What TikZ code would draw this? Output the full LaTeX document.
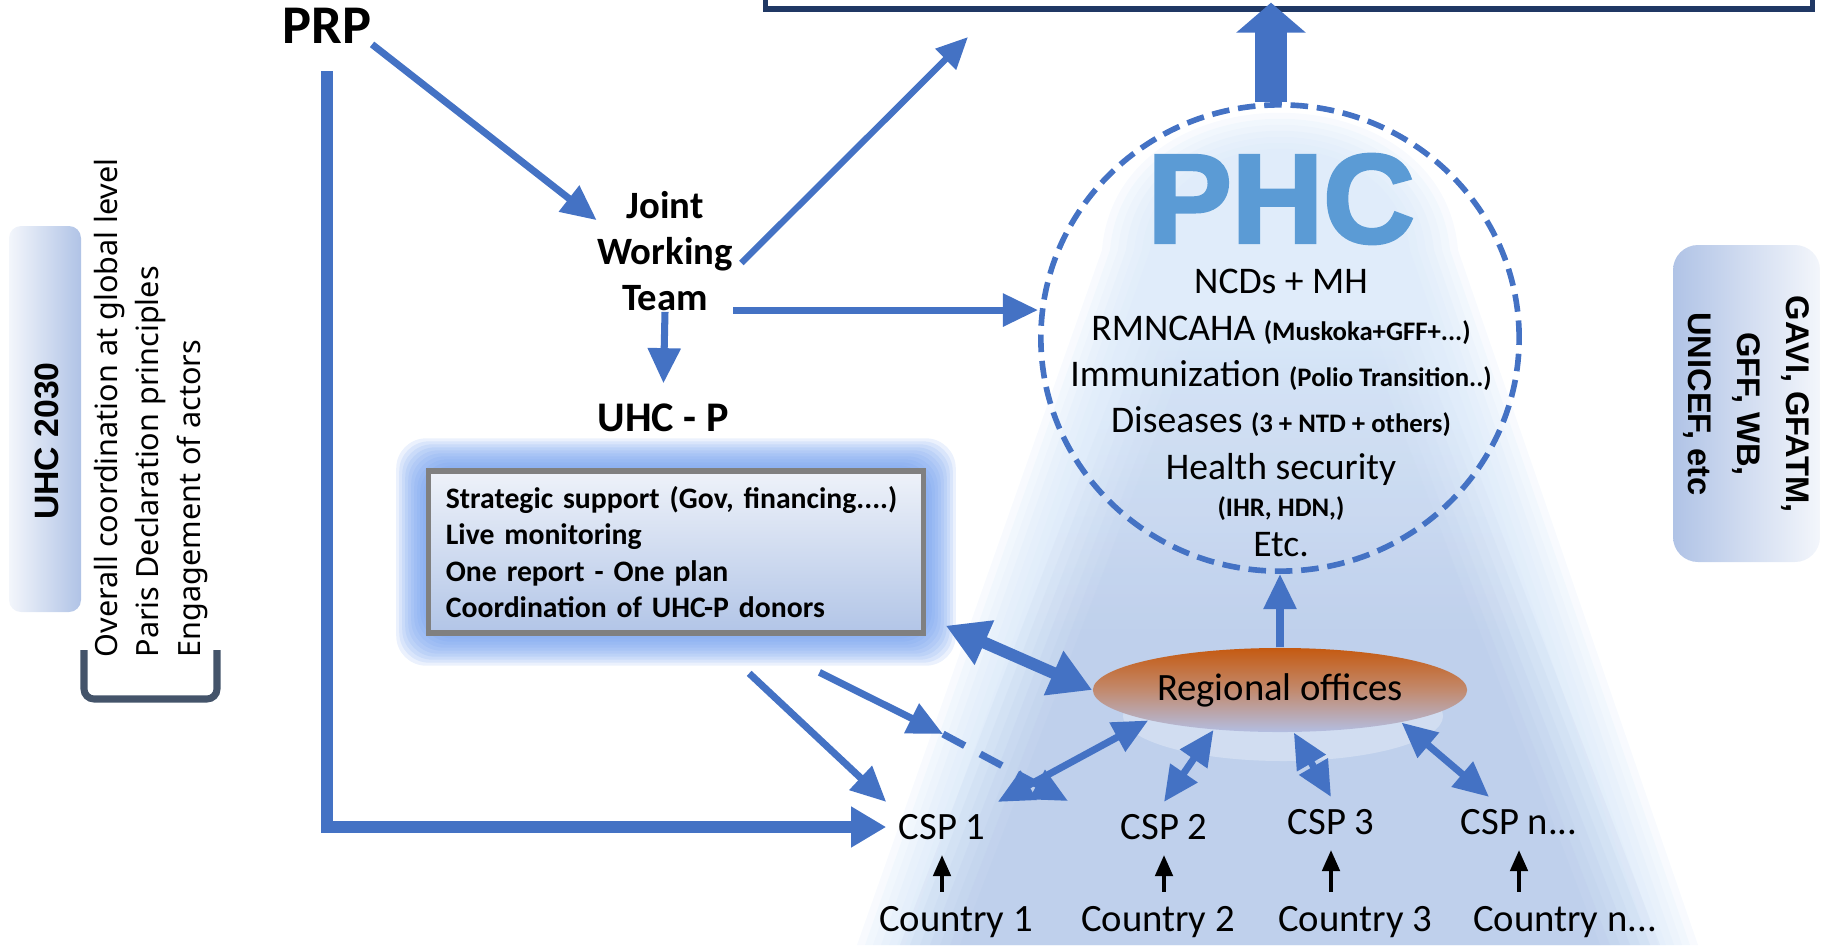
\documentclass[tikz,border=0pt]{standalone}
\usepackage{fontspec}
\setmainfont{Carlito}
\newfontfamily\sidefont{Noto Sans}
\newfontfamily\sideboldfont{Liberation Sans}
\newfontfamily\phcfont[BoldFeatures={RawFeature={embolden=2.5}}]{Liberation Sans}
\usetikzlibrary{arrows.meta,calc,shapes.geometric,backgrounds}

\definecolor{arrowblue}{HTML}{4472C4}
\definecolor{phcblue}{HTML}{5B9BD5}
\definecolor{glowblue}{HTML}{6E9CEE}
\definecolor{boxtop}{HTML}{EEF2F9}
\definecolor{boxbottom}{HTML}{B2C5E7}
\definecolor{conelight}{HTML}{D6E6F8}
\definecolor{conedark}{HTML}{AFC2E6}
\definecolor{rotop}{HTML}{C55A11}
\definecolor{romid}{HTML}{C28A6E}
\definecolor{robottom}{HTML}{B3BEE2}
\definecolor{navy}{HTML}{203864}
\definecolor{slate}{HTML}{44546A}
\definecolor{sideblue}{HTML}{B0C3E6}

\newcommand{\subnote}[1]{{\fontsize{7.6}{9}\selectfont\bfseries #1}}

\tikzset{
  arr/.style={arrowblue,line width=2pt,-{Triangle[width=9pt,length=10pt]}},
  dblarr/.style={arrowblue,line width=2pt,{Triangle[width=9pt,length=10pt]}-{Triangle[width=9pt,length=10pt]}},
  csptext/.style={font=\fontsize{11}{13}\selectfont},
  teamtext/.style={inner sep=0pt,align=center,font=\fontsize{11}{13.2}\selectfont\bfseries},
  sbox/.style={draw=gray,line width=1.5pt,top color=boxtop,bottom color=boxbottom,text width=4.6cm,
    inner xsep=0.17cm,minimum height=1.62cm,align=left,font=\fontsize{8.45}{10.3}\selectfont\bfseries},
}

\begin{document}
\begin{tikzpicture}[x=0.01cm,y=-0.01cm]
\useasboundingbox (0,0) rectangle (1821,945);

\node [draw=navy,line width=1.5pt,fill=white,minimum width=10.46cm,minimum height=1cm,inner sep=0pt] (top) at (1289,-41) {};

\node [teamtext,font=\fontsize{15.5}{18}\selectfont\bfseries] (prp) at (327,26) {PRP};
\node [teamtext] (jwt) at (665,251) {Joint\\Working\\Team};
\node [teamtext,font=\fontsize{12}{14}\selectfont\bfseries] (uhcp) at (663,418) {UHC - P};
\node [sbox] (box) at (676,552) {Strategic support (Gov, financing....)\\Live monitoring\\One report - One plan\\Coordination of UHC-P donors};

\node [ellipse,draw=arrowblue,dash pattern=on 5pt off 2.5pt,line width=1.6pt,minimum width=4.78cm,minimum height=4.66cm,inner sep=0pt] (phc) at (1280,338) {};
\node [inner sep=0pt,text=phcblue,font=\phcfont\bfseries\fontsize{36}{40}\selectfont] (phctitle) at (1281,199) {PHC};
\node [inner sep=0pt,align=center,font=\fontsize{10.7}{13.2}\selectfont] (items) at (1281,413) {NCDs + MH\\RMNCAHA \subnote{(Muskoka+GFF+...)}\\Immunization \subnote{(Polio Transition..)}\\Diseases \subnote{(3 + NTD + others)}\\Health security\\[-2.7pt]\subnote{(IHR, HDN,)}\\[-1.8pt]Etc.};

\node [ellipse,top color=rotop,bottom color=robottom,middle color=romid,minimum width=3.74cm,minimum height=0.84cm,inner sep=0pt,csptext] (ro) at (1280,690) {Regional offices};

\node [csptext] (csp1) at (942,827) {CSP 1};
\node [csptext] (csp2) at (1164,827) {CSP 2};
\node [csptext] (csp3) at (1331,822) {CSP 3};
\node [csptext] (cspn) at (1519,822) {CSP n...};
\node [csptext] (c1) at (956,922) {Country 1};
\node [csptext] (c2) at (1158,922) {Country 2};
\node [csptext] (c3) at (1355,922) {Country 3};
\node [csptext] (cn) at (1565,922) {Country n...};

\shade [left color=white!85!sideblue,right color=sideblue,rounded corners=0.12cm] (9,226) rectangle (81,612);
\node [rotate=90,inner sep=0pt,font=\sideboldfont\bfseries\fontsize{9.6}{12}\selectfont] (uhc) at (47,441) {UHC 2030};
\node [rotate=90,anchor=west,align=left,inner sep=0pt,font=\sidefont\fontsize{8.7}{11.7}\selectfont] (princ) at (151,658) {Overall coordination  at global level\\Paris Declaration principles\\Engagement of actors};
\draw [slate,line width=2pt,rounded corners=0.1cm] (84,650) -- (84,699) -- (217,699) -- (217,650);

\shade [left color=sideblue,right color=white!85!sideblue,rounded corners=0.25cm] (1673,245) rectangle (1820,562);
\node [rotate=-90,inner sep=0pt,align=center,font=\sideboldfont\bfseries\fontsize{9.3}{13.9}\selectfont] (donors) at (1746,404) {GAVI, GFATM,\\GFF, WB,\\UNICEF, etc};

\coordinate (jtop) at (968,37);
\coordinate (jwtout) at ([yshift=-0.59cm]jwt.east);
\coordinate (phctop) at ([xshift=-0.09cm]phc.north);
\coordinate (dmid) at (943,734);
\coordinate (dend) at (1068,801);

\draw [arrowblue,line width=3.3pt,-{Triangle[width=11pt,length=10pt]},shorten <=0.27cm] (prp.south)  --  (prp.south |- csp1.west)  --  (csp1.west);
\draw [arr] (prp.south east)  --  ([yshift=-0.3cm]jwt.north west);
\draw [arr,line width=1.8pt,-{Triangle[width=8pt,length=9pt]}] ([xshift=0.08cm,yshift=-0.12cm]jwt.east)  --  (jtop);
\draw [arr] (jwtout)  --  (jwtout -| phc.west);
\draw [arr,shorten >=0.2cm] (jwt.south)  --  (uhcp.north);
\draw [arrowblue,line width=0.32cm,-{Triangle[width=0.68cm,length=0.3cm]},shorten >=-0.09cm] (phctop)  --  (phctop |- top.south);
\draw [arr] (ro.north)  --  (phc.south);
\draw [arrowblue,line width=3.4pt,{Triangle[width=13pt,length=12pt]}-{Triangle[width=13pt,length=12pt]}] ([xshift=0.2cm,yshift=0.1cm]box.south east)  --  (ro.west);
\draw [arr,shorten <=0.55cm] ([xshift=0.33cm]box.south)  --  (csp1.north west);
\draw [arr,shorten <=0.82cm] ([xshift=0.7cm]box.south)  --  (dmid);
\draw [arr,dash pattern=on 7pt off 5pt] (dmid)  --  (dend);

\draw [dblarr] (csp1.north east)  --  (ro.-167);
\draw [dblarr] (csp2.north)  --  (ro.-149);
\draw [dblarr] (csp3.north)  --  (ro.-72);
\draw [dblarr] ([xshift=-0.3cm]cspn.north)  --  (ro.-15);

\foreach \n in {1,2,3,n}
  \draw [black,line width=1pt,-{Triangle[width=5pt,length=6pt]},shorten <=0.02cm,shorten >=0.03cm] (c\n.north -| csp\n.south)  --  (csp\n.south);

\begin{scope}[on background layer]
\foreach \s in {48,40,...,0}
  \fill [conelight,opacity=0.18] (1150-\s,250) .. controls (1165-\s,115-\s) and (1395+\s,115-\s) .. (1410+\s,250)  --  (1650+\s,945)  --  (905-\s,945)  --  cycle;
\foreach \s in {60,50,...,0}
  \shade [top color=conelight,bottom color=conedark,middle color=conedark,opacity=0.13] (1200-\s,320)  --  (1360+\s,320)  --  (1600+\s,945)  --  (960-\s,945)  --  cycle;
\fill [white,opacity=0.3] (1283,716) ellipse [x radius=160,y radius=45];
\foreach \g in {10,...,1}
  \fill [glowblue,opacity=0.14,rounded corners=0.3cm] ($(box.north west)+(-3*\g,-3*\g)$) rectangle ($(box.south east)+(3*\g,3*\g)$);
\end{scope}

\end{tikzpicture}
\end{document}
